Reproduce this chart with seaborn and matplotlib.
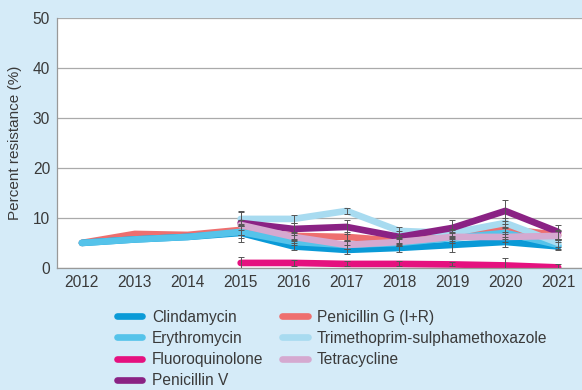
import numpy as np
import pandas as pd
import matplotlib
matplotlib.use("Agg")
import matplotlib.pyplot as plt
import seaborn as sns

years = list(range(2012, 2022))
nan = np.nan

clindamycin = [5.0, 5.7, 6.2, 7.0, 4.3, 3.6, 4.0, 4.6, 5.2, 4.3]
erythromycin = [5.0, 5.7, 6.2, 7.2, 5.2, 4.6, 5.0, 6.0, 7.0, 4.6]
fluoroquinolone = [nan, nan, nan, 1.0, 1.0, 0.8, 0.8, 0.7, 0.5, 0.1]
penicillin_v = [nan, nan, nan, 9.0, 7.8, 8.2, 6.2, 8.0, 11.4, 7.2]
penicillin_g = [5.0, 6.8, 6.6, 7.6, 6.4, 6.2, 5.4, 6.6, 7.8, 6.6]
trimethoprim = [nan, nan, nan, 9.8, 9.8, 11.4, 7.4, 7.0, 9.0, 5.0]
tetracycline = [nan, nan, nan, 8.6, 6.2, 4.6, 5.2, 6.2, 6.2, 6.4]

# confidence half-widths, 2015-2021
err_clindamycin = [1.8, 0.7, 0.9, 0.8, 1.4, 1.0, 0.8]
err_erythromycin = [1.2, 0.6, 0.8, 0.7, 1.0, 1.2, 0.9]
err_fluoroquinolone = [1.2, 0.6, 0.5, 0.5, 0.4, 1.5, 0.6]
err_penicillin_v = [2.4, 1.2, 1.4, 1.2, 1.6, 2.1, 1.4]
err_penicillin_g = [1.0, 0.8, 0.9, 0.8, 0.9, 1.0, 0.9]
err_trimethoprim = [1.4, 0.8, 0.6, 0.8, 0.8, 1.0, 0.8]
err_tetracycline = [1.0, 0.8, 0.9, 0.8, 0.9, 1.0, 0.9]

labels = ["Clindamycin", "Erythromycin", "Fluoroquinolone", "Penicillin V",
          "Penicillin G (I+R)", "Trimethoprim-sulphamethoxazole", "Tetracycline"]
values = [clindamycin, erythromycin, fluoroquinolone, penicillin_v,
          penicillin_g, trimethoprim, tetracycline]
errors = [err_clindamycin, err_erythromycin, err_fluoroquinolone, err_penicillin_v,
          err_penicillin_g, err_trimethoprim, err_tetracycline]
colors = ["#0a9ad7", "#55c3ea", "#e5117f", "#8a2284",
          "#ee6f6f", "#a8dbf0", "#d5a9d0"]
palette = dict(zip(labels, colors))

rows = []
for lab, vals in zip(labels, values):
    for y, v in zip(years, vals):
        rows.append({"Year": y, "Antibiotic": lab, "Resistance": v})
df = pd.DataFrame(rows)

sns.set_theme(style="white")
plt.rcParams["font.family"] = ["Liberation Sans", "DejaVu Sans"]

bg = "#d5ebf8"
text_col = "#3a3a3a"
fig = plt.figure(figsize=(5.82, 3.90), dpi=100, facecolor=bg)
ax = fig.add_axes([0.098, 0.313, 0.902, 0.641])
ax.set_facecolor("white")

# drawing order (bottom to top)
draw_order = ["Penicillin G (I+R)", "Clindamycin", "Erythromycin",
              "Trimethoprim-sulphamethoxazole", "Penicillin V",
              "Tetracycline", "Fluoroquinolone"]
for lab in draw_order:
    sub = df[df["Antibiotic"] == lab].dropna()
    sns.lineplot(data=sub, x="Year", y="Resistance", color=palette[lab],
                 linewidth=4.8, ax=ax, solid_capstyle="round",
                 solid_joinstyle="round", legend=False, errorbar=None)

for lab, vals, err in zip(labels, values, errors):
    ax.errorbar(years[3:], vals[3:], yerr=err, fmt="none", ecolor="#555555",
                elinewidth=0.7, capsize=2.0, capthick=0.7, zorder=5)

ax.set_xlim(2011.53, 2021.45)
ax.set_ylim(0, 50)
ax.set_xticks(years)
ax.set_yticks([0, 10, 20, 30, 40, 50])
ax.grid(axis="y", color="#aaaaaa", linewidth=0.9)
ax.set_axisbelow(True)
for s in ["top", "right"]:
    ax.spines[s].set_visible(False)
for s in ["left", "bottom"]:
    ax.spines[s].set_color("#999999")
    ax.spines[s].set_linewidth(0.9)
ax.tick_params(axis="both", length=0, labelsize=11.2, colors=text_col, pad=5)
ax.set_xlabel("")
ax.set_ylabel("Percent resistance (%)", fontsize=11, color=text_col, labelpad=8)

handles = [plt.Line2D([0], [0], color=palette[l], linewidth=4.8,
                      solid_capstyle="round") for l in labels]
fig.legend(handles, labels, ncol=2, frameon=False, loc="upper left",
           bbox_to_anchor=(0.19, 0.222), fontsize=11.2, labelcolor=text_col,
           handlelength=1.65, handletextpad=0.6, columnspacing=1.2,
           labelspacing=0.40, borderaxespad=0)

fig.savefig("out.png", dpi=100, facecolor=bg)
